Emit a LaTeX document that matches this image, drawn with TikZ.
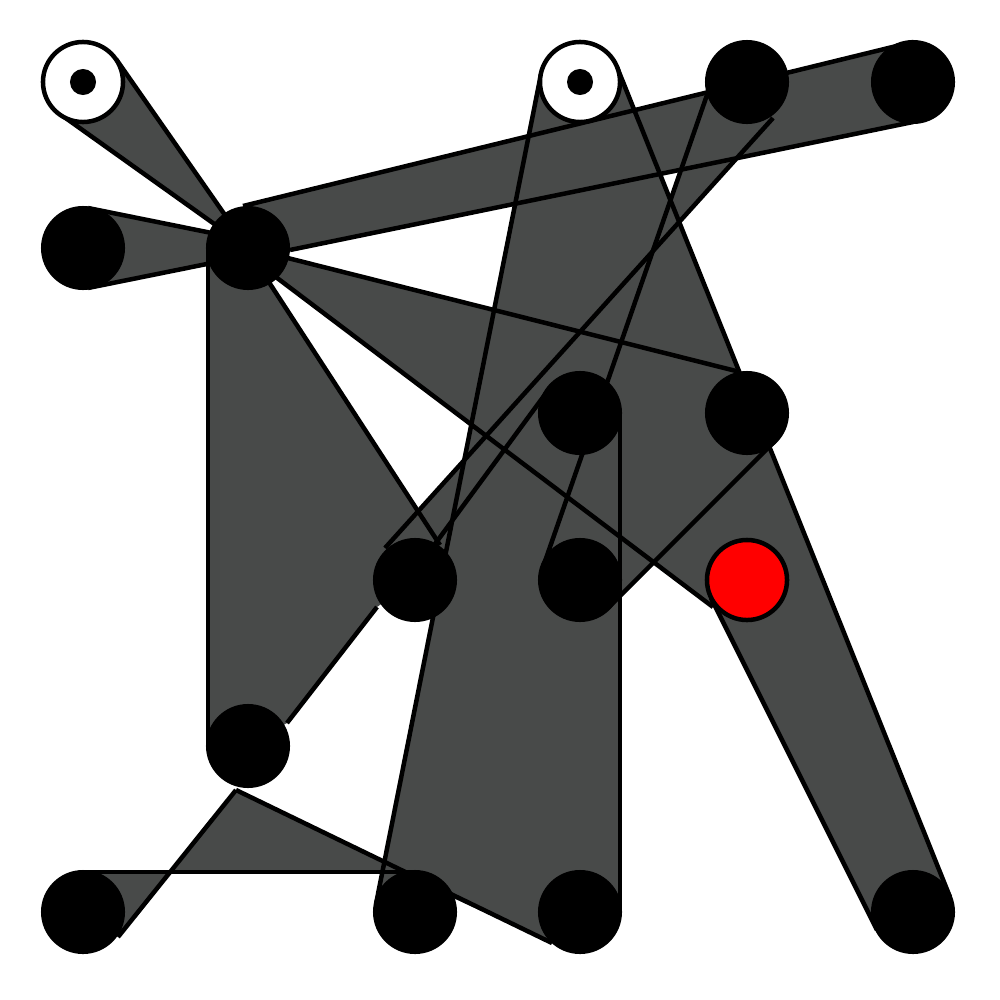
\documentclass[tikz,border=0pt]{standalone}
\usetikzlibrary{calc}
\definecolor{bandgray}{HTML}{484A49}

\begin{document}
\begin{tikzpicture}[x=0.01cm,y=-0.01cm,
    band/.style={fill=bandgray},
    rim/.style={line width=0.45mm},
    ring/.style={fill=white,draw=black,line width=0.45mm}]
    \useasboundingbox (0,0) rectangle (1000,1000);
    \fill[white] (0,0) rectangle (1000,1000);
    \coordinate (w1) at (83,82);
    \coordinate (w2) at (580,82);
    \coordinate (n40) at (747,82);
    \coordinate (n50) at (913,82);
    \coordinate (n01) at (83,248);
    \coordinate (hub) at (248,248);
    \coordinate (n32) at (580,413);
    \coordinate (n42) at (747,413);
    \coordinate (n23) at (415,580);
    \coordinate (n33) at (580,580);
    \coordinate (red) at (747,580);
    \coordinate (n14) at (248,746);
    \coordinate (n05) at (83,912);
    \coordinate (n25) at (415,912);
    \coordinate (n35) at (580,912);
    \coordinate (n55) at (913,912);
    \fill[band] ($(w1)+(-23,32)$) -- ($(w1)+(33,-23)$) -- (hub) -- cycle;
    \fill[band] ($(n01)+(5,-40)$) -- ($(hub)+(38,0)$) -- ($(n01)+(5,40)$) -- cycle;
    \fill[band] ($(hub)+(-5,-42)$) -- ($(n50)+(0,-40)$) -- ($(n50)+(0,40)$) -- ($(hub)+(42,2)$) -- (hub) -- cycle;
    \fill[band] (hub) -- ($(n42)+(-7,-41)$) -- (n42) -- (red) -- ($(red)+(-34,27)$) -- ($(hub)+(0,8)$) -- cycle;
    \fill[band] ($(w2)+(37,-15)$) -- ($(n55)+(37,-15)$) -- ($(n55)+(-37,15)$) -- ($(w2)+(-37,15)$) -- cycle;
    \fill[band] ($(red)+(-36,18)$) -- ($(n55)+(-36,18)$) -- ($(n55)+(36,-18)$) -- ($(red)+(36,-18)$) -- cycle;
    \fill[band] ($(w2)+(-39,-8)$) -- ($(n25)+(-39,-8)$) -- (n25) -- ($(n25)+(5,-29)$) -- ($(n35)+(-28,31)$) -- ($(n35)+(40,0)$) -- ($(w2)+(40,0)$) -- cycle;
    \fill[band] ($(n40)+(-40,13)$) -- ($(n33)+(-38,-10)$) -- ($(n23)+(-30,-32)$) -- ($(n40)+(26,36)$) -- cycle;
    \fill[band] ($(w2)+(90,118)$) -- ($(n33)+(-38,-10)$) -- (n33) -- (n42) -- cycle;
    \fill[band] ($(hub)+(-40,0)$) -- ($(hub)+(0,2)$) -- ($(n23)+(25,-35)$) -- (n23) -- ($(n23)+(-38,27)$) -- ($(n14)+(39,-23)$) -- (n14) -- ($(n14)+(-40,0)$) -- cycle;
    \fill[band] ($(n05)+(0,-40)$) -- ($(n35)+(0,-40)$) -- ($(n35)+(-28,31)$) -- ($(n14)+(-12,44)$) -- ($(n05)+(35,25)$) -- cycle;
    \fill[band] ($(n33)+(-28,-28)$) -- ($(n42)+(-28,-28)$) -- ($(n42)+(28,28)$) -- ($(n33)+(28,28)$) -- cycle;
    \draw[rim] ($(w1)+(-23,32)$) -- (hub);
    \draw[rim] ($(w1)+(33,-23)$) -- (hub);
    \draw[rim] ($(n01)+(5,-40)$) -- ($(hub)+(38,0)$);
    \draw[rim] ($(n01)+(5,40)$) -- ($(hub)+(38,0)$);
    \draw[rim] ($(hub)+(-5,-42)$) -- ($(n50)+(0,-40)$);
    \draw[rim] ($(hub)+(42,2)$) -- ($(n50)+(0,40)$);
    \draw[rim] (hub) -- ($(n42)+(-7,-41)$);
    \draw[rim] ($(hub)+(0,8)$) -- ($(red)+(-34,27)$);
    \draw[rim] ($(hub)+(0,2)$) -- ($(n23)+(25,-35)$);
    \draw[rim] ($(hub)+(-40,0)$) -- ($(n14)+(-40,0)$);
    \draw[rim] ($(n14)+(39,-23)$) -- ($(n23)+(-38,27)$);
    \draw[rim] ($(w2)+(-39,-8)$) -- ($(n25)+(-39,-8)$);
    \draw[rim] ($(w2)+(37,-15)$) -- ($(n55)+(37,-15)$);
    \draw[rim] ($(n40)+(-40,13)$) -- ($(n33)+(-38,-10)$);
    \draw[rim] ($(n40)+(26,36)$) -- ($(n23)+(-30,-32)$);
    \draw[rim] ($(n32)+(-28,-28)$) -- ($(n23)+(20,-36)$);
    \draw[rim] ($(n32)+(40,0)$) -- ($(n35)+(40,0)$);
    \draw[rim] ($(n33)+(28,28)$) -- ($(n42)+(28,28)$);
    \draw[rim] ($(red)+(-36,18)$) -- ($(n55)+(-36,18)$);
    \draw[rim] ($(n05)+(0,-40)$) -- ($(n25)+(0,-40)$);
    \draw[rim] ($(n14)+(-12,44)$) -- ($(n05)+(35,25)$);
    \draw[rim] ($(n14)+(-12,44)$) -- ($(n35)+(-28,31)$);
    \foreach \p in {n40,n50,n01,hub,n32,n42,n23,n33,n14,n05,n25,n35,n55}
        \fill (\p) circle (4.2mm);
    \foreach \p in {w1,w2}{
        \draw[ring] (\p) circle (4mm);
        \fill (\p) circle (1.3mm);
    }
    \draw[fill=red,line width=0.45mm] (red) circle (4mm);
\end{tikzpicture}
\end{document}
